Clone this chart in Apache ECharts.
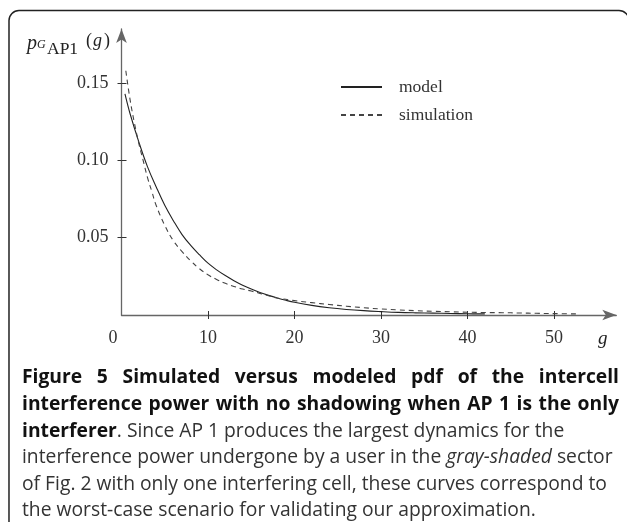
<!DOCTYPE html>
<html>
<head>
<meta charset="utf-8">
<script src="https://cdn.jsdelivr.net/npm/echarts@6/dist/echarts.min.js"></script>
<style>
  html, body { margin: 0; padding: 0; background: #fff; }
  #chart { width: 627px; height: 522px; }
</style>
</head>
<body>
<div id="chart"></div>
<script>
// Interference power g (x) and probability density values for both curves
const gModel = [0.4, 1, 2, 3, 4, 5, 6, 7, 8, 9, 10, 11, 12, 13, 14, 15, 16, 17, 18, 19, 20,
                22, 24, 26, 28, 30, 32, 34, 36, 38, 40, 42];
const pModel = [0.143, 0.130, 0.112, 0.096, 0.083, 0.071, 0.061, 0.052, 0.045, 0.039, 0.0335,
                0.0292, 0.0255, 0.0222, 0.0193, 0.0168, 0.0146, 0.0127, 0.011, 0.0095, 0.0082,
                0.0062, 0.0047, 0.0036, 0.0028, 0.0022, 0.0017, 0.0014, 0.0012, 0.001, 0.0008, 0.0007];

const gSim = [0.5, 1, 1.5, 2, 2.5, 3, 3.5, 4, 5, 6, 7, 8, 9, 10, 11, 12, 13, 14, 15, 16, 17, 18,
              20, 22, 24, 26, 28, 30, 32, 34, 36, 38, 40, 42, 44, 46, 48, 50, 52.7];
const pSim = [0.158, 0.139, 0.124, 0.111, 0.100, 0.089, 0.080, 0.071, 0.058, 0.048, 0.041, 0.035,
              0.030, 0.026, 0.023, 0.0205, 0.0185, 0.0168, 0.0155, 0.014, 0.0125, 0.011,
              0.0093, 0.008, 0.0068, 0.0057, 0.0047, 0.0039, 0.0033, 0.0028, 0.0024, 0.0021,
              0.0018, 0.0016, 0.0015, 0.0013, 0.0011, 0.0009, 0.0007];

const seriesNames = ['model', 'simulation'];
const xTickValues = [10, 20, 30, 40, 50];
const xLabelValues = [0, 10, 20, 30, 40, 50];
const yTickValues = [0.05, 0.10, 0.15];

// Caption lines
const captionBold1 = 'Figure 5 Simulated versus modeled pdf of the intercell';
const captionBold2 = 'interference power with no shadowing when AP 1 is the only';
const captionBold3 = 'interferer';
const captionRest3 = '. Since AP 1 produces the largest dynamics for the';
const caption4a = 'interference power undergone by a user in the ';
const caption4b = 'gray-shaded';
const caption4c = ' sector';
const caption5 = 'of Fig. 2 with only one interfering cell, these curves correspond to';
const caption6 = 'the worst-case scenario for validating our approximation.';

const serif = '"Liberation Serif", "Times New Roman", serif';
const sans = '"Open Sans", "Noto Sans", sans-serif';
const capSize = 19.3;

const chart = echarts.init(document.getElementById('chart'), null, { renderer: 'canvas' });

function zip(xs, ys) { return xs.map((x, i) => [x, ys[i]]); }

// Spread the words of a bold line across the full text width
const measureCtx = document.createElement('canvas').getContext('2d');
function justifiedLine(text, font, left, right, y, extra) {
  const words = text.split(' ');
  measureCtx.font = font;
  const widths = words.map(w => measureCtx.measureText(w).width);
  const total = widths.reduce((a, b) => a + b, 0);
  const gap = (right - left - total) / (words.length - 1);
  const out = [];
  let x = left;
  words.forEach((w, i) => {
    out.push({
      type: 'text', x: x, y: y, silent: true,
      style: Object.assign({ text: w, fill: '#111', verticalAlign: 'middle' }, extra)
    });
    x += widths[i] + gap;
  });
  return out;
}

const capLeft = 22, capRight = 619;
const lineY = [378, 404.6, 431.2, 457.8, 484.4, 511];
const boldStyle = { fontFamily: sans, fontSize: capSize, fontWeight: 'bold' };
const regStyle = { fontFamily: sans, fontSize: capSize, fontWeight: 'normal', fill: '#333' };

const captionEls = []
  .concat(justifiedLine(captionBold1, 'bold ' + capSize + 'px "Open Sans"', capLeft, capRight, lineY[0], boldStyle))
  .concat(justifiedLine(captionBold2, 'bold ' + capSize + 'px "Open Sans"', capLeft, capRight, lineY[1], boldStyle))
  .concat([
    {
      type: 'text', x: capLeft, y: lineY[2], silent: true,
      style: {
        text: '{b|' + captionBold3 + '}{r|' + captionRest3 + '}',
        verticalAlign: 'middle',
        rich: {
          b: { fontFamily: sans, fontSize: capSize, fontWeight: 'bold', fill: '#111' },
          r: regStyle
        }
      }
    },
    {
      type: 'text', x: capLeft, y: lineY[3], silent: true,
      style: {
        text: '{r|' + caption4a + '}{i|' + caption4b + '}{r|' + caption4c + '}',
        verticalAlign: 'middle',
        rich: {
          r: regStyle,
          i: Object.assign({}, regStyle, { fontStyle: 'italic' })
        }
      }
    },
    { type: 'text', x: capLeft, y: lineY[4], silent: true,
      style: Object.assign({ text: caption5, verticalAlign: 'middle' }, regStyle) },
    { type: 'text', x: capLeft, y: lineY[5], silent: true,
      style: Object.assign({ text: caption6, verticalAlign: 'middle' }, regStyle) }
  ]);

// Y-axis title p_{G_AP1}(g)
const yTitle = [
  { type: 'text', x: 27, y: 44, silent: true,
    style: { text: 'p', fontFamily: serif, fontSize: 20, fontStyle: 'italic', fill: '#222', verticalAlign: 'middle' } },
  { type: 'text', x: 37, y: 44.5, silent: true,
    style: { text: 'G', fontFamily: serif, fontSize: 12, fontStyle: 'italic', fill: '#222', verticalAlign: 'middle' } },
  { type: 'text', x: 47, y: 49.5, silent: true,
    style: { text: 'AP1', fontFamily: serif, fontSize: 17.5, fill: '#222', verticalAlign: 'middle' } },
  { type: 'text', x: 86, y: 41, silent: true,
    style: {
      text: '{n|(}{i|g}{n|)}', verticalAlign: 'middle',
      rich: {
        n: { fontFamily: serif, fontSize: 18, fill: '#222' },
        i: { fontFamily: serif, fontSize: 18, fontStyle: 'italic', fill: '#222', padding: [0, 2, 0, 1] }
      }
    } }
];

const axisColor = '#666';
const labelStyle = { fontFamily: serif, fontSize: 18, color: '#333' };
const xMax = 57.2;
const yMax = 0.185;

const option = {
  backgroundColor: '#fff',
  animation: false,
  grid: { left: 121.5, top: 29, width: 494.8, height: 286, containLabel: false },
  legend: {
    orient: 'vertical',
    left: 340, top: 78, padding: 0,
    itemWidth: 41, itemHeight: 14, itemGap: 10,
    data: seriesNames,
    itemStyle: { opacity: 0 },
    textStyle: { fontFamily: serif, fontSize: 17.5, color: '#333', padding: [0, 0, 0, 12] }
  },
  xAxis: [
    {
      type: 'value', position: 'bottom', min: 0, max: xMax, interval: 10,
      axisLine: { show: true, onZero: false, symbol: ['none', 'arrow'], symbolSize: [8, 14],
                  lineStyle: { color: axisColor, width: 1.3 } },
      axisTick: { show: true, length: 4, customValues: xTickValues, lineStyle: { color: '#333', width: 1 } },
      axisLabel: {
        show: true, margin: 14, customValues: xLabelValues,
        formatter: v => (v === 0 ? '{z|0}' : String(v)),
        rich: { z: Object.assign({ padding: [0, 17, 0, 0] }, labelStyle) },
        ...labelStyle
      },
      splitLine: { show: false }
    },
    {
      type: 'value', position: 'bottom', min: 0, max: xMax, interval: 10,
      axisLine: { show: false },
      axisTick: { show: true, inside: true, length: 4, customValues: xTickValues, lineStyle: { color: '#333', width: 1 } },
      axisLabel: { show: false },
      splitLine: { show: false }
    }
  ],
  yAxis: [
    {
      type: 'value', position: 'left', min: 0, max: yMax, interval: 0.05,
      axisLine: { show: true, onZero: false, symbol: ['none', 'arrow'], symbolSize: [8, 14],
                  lineStyle: { color: axisColor, width: 1.3 } },
      axisTick: { show: true, length: 4, customValues: yTickValues, lineStyle: { color: '#333', width: 1 } },
      axisLabel: {
        show: true, margin: 13, customValues: yTickValues,
        formatter: v => v.toFixed(2),
        ...labelStyle
      },
      splitLine: { show: false }
    },
    {
      type: 'value', position: 'left', min: 0, max: yMax, interval: 0.05,
      axisLine: { show: false },
      axisTick: { show: true, inside: true, length: 5, customValues: yTickValues, lineStyle: { color: '#333', width: 1 } },
      axisLabel: { show: false },
      splitLine: { show: false }
    }
  ],
  series: [
    {
      name: seriesNames[0], type: 'line', xAxisIndex: 0, yAxisIndex: 0,
      data: zip(gModel, pModel), smooth: 0.4, symbol: 'none',
      lineStyle: { color: '#222', width: 1.1, type: 'solid' },
      itemStyle: { color: '#222' }
    },
    {
      name: seriesNames[1], type: 'line', xAxisIndex: 0, yAxisIndex: 0,
      data: zip(gSim, pSim), smooth: 0.4, symbol: 'none',
      lineStyle: { color: '#444', width: 1.1, type: [5, 4] },
      itemStyle: { color: '#444' }
    }
  ],
  graphic: [
    // rounded frame around figure and caption
    { type: 'rect', silent: true, z: -1,
      shape: { x: 9, y: 10.5, width: 620, height: 600, r: 10 },
      style: { fill: 'none', stroke: '#222', lineWidth: 1.5 } },
    // x-axis variable name
    { type: 'text', x: 598, y: 339, silent: true,
      style: { text: 'g', fontFamily: serif, fontSize: 19, fontStyle: 'italic', fill: '#222', verticalAlign: 'middle' } }
  ].concat(yTitle).concat(captionEls)
};

chart.setOption(option);
</script>
</body>
</html>
